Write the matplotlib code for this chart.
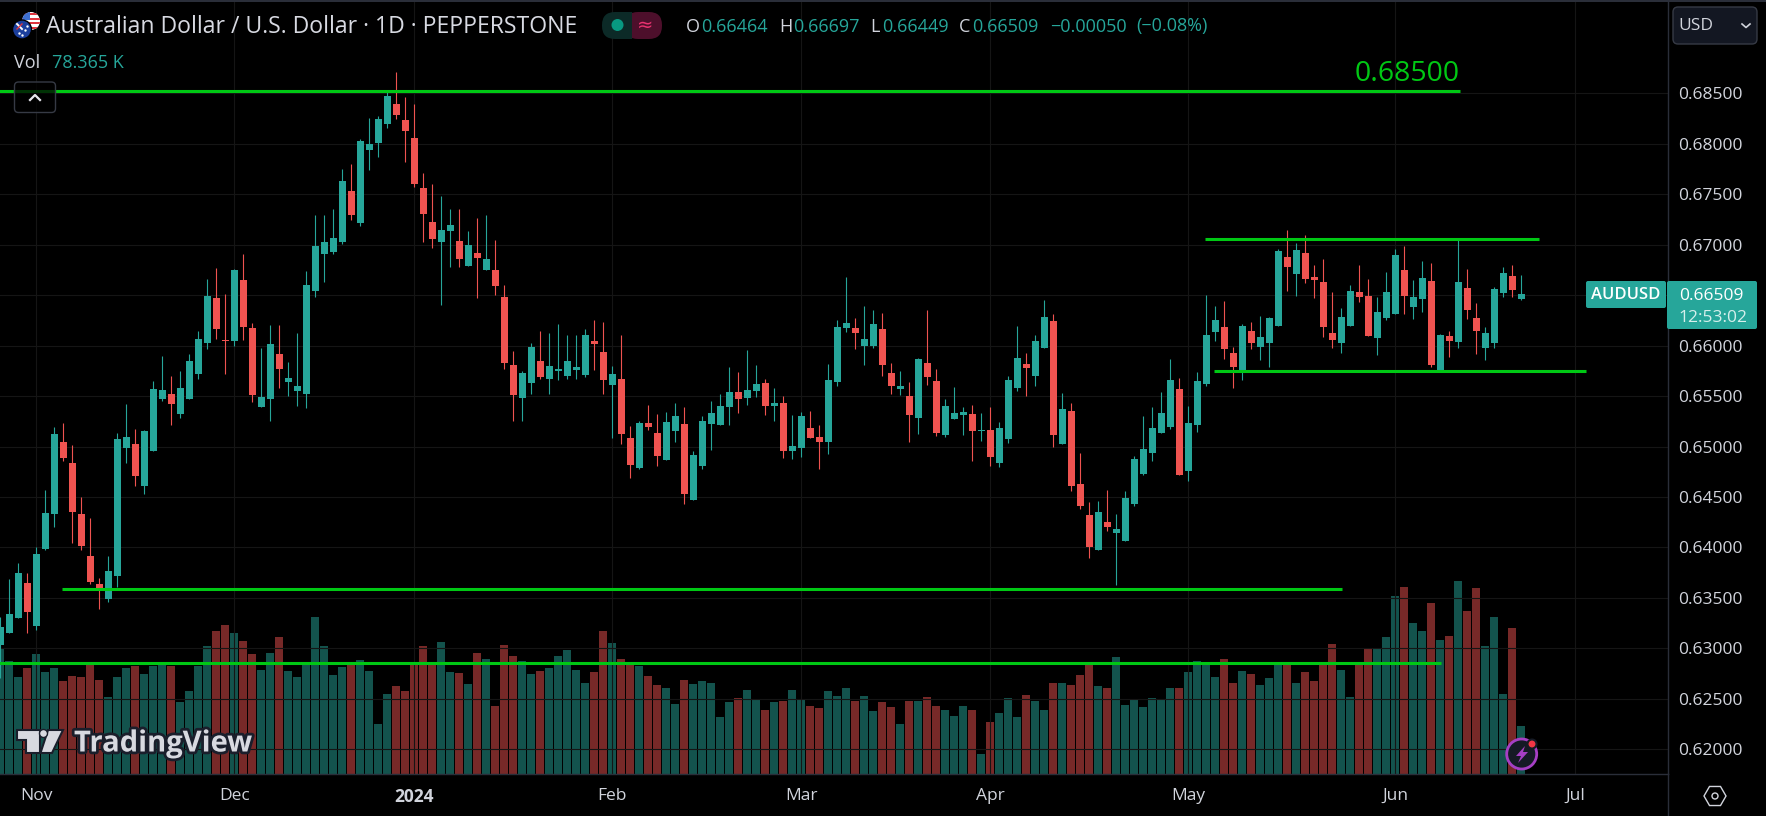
"""AUDUSD daily candles with volume, drawn like a TradingView dark chart."""
import numpy as np
import matplotlib
matplotlib.use("Agg")
import matplotlib.pyplot as plt
from matplotlib.patches import Circle, FancyBboxPatch, Polygon, Rectangle
import matplotlib.patheffects as pe

plt.rcParams["font.family"] = ["Open Sans", "DejaVu Sans"]

FIRST_BAR = -4  # bar 0 is the "Nov" tick

# prices in points (1e-5)
opens = [
    63034, 63153, 63301, 63648, 63222, 63985, 64332, 65045, 64837, 64332,
    63916, 63638, 63490, 63717, 64986, 65025, 64609, 64956, 65471, 65521,
    65323, 65471, 65719, 66026, 66472, 66056, 66046, 66650, 66175, 65392,
    65471, 65917, 65640, 65551, 65521, 66541, 66908, 66928, 67027, 67532,
    67215, 67939, 68008, 68196, 68394, 68236, 68058, 67562, 67225, 67027,
    67136, 67037, 66789, 66918, 66750, 66750, 66482, 65808, 65481, 65630,
    65848, 65669, 65749, 65699, 65759, 65709, 66046, 65937, 65610, 65669,
    65085, 64788, 65233, 65134, 64867, 65154, 65224, 64470, 64807, 65224,
    65214, 65392, 65541, 65481, 65551, 65630, 65402, 65432, 64956, 64986,
    65184, 65095, 65045, 65640, 66175, 66175, 65996, 65996, 66165, 65729,
    65570, 65501, 65283, 65828, 65650, 65115, 65273, 65313, 65323, 65154,
    65164, 64837, 65075, 65580, 65818, 65699, 65977, 66244, 65025, 65352,
    64629, 64322, 63975, 64252, 64143, 64064, 64431, 64728, 64936, 65134,
    65194, 65570, 64758, 65214, 65620, 66135, 66185, 65927, 65739, 66145,
    65987, 66026, 66195, 66878, 66710, 66918, 66680, 66631, 66125, 66026,
    66195, 66532, 66492, 66076, 66274, 66314, 66750, 66383, 66462, 66641,
    65739, 66096, 66036, 66571, 66274, 65977, 66026, 66522, 66690, 66464,
]
highs = [
    63311, 63688, 63846, 63747, 64005, 64570, 65194, 65233, 65015, 64500,
    64292, 63698, 63916, 65134, 65422, 65174, 65164, 65650, 65897, 65699,
    65749, 65917, 66145, 66660, 66769, 66512, 66759, 66908, 66224, 65977,
    66205, 66205, 65838, 66125, 66740, 67295, 67295, 67354, 67750, 67800,
    68048, 68256, 68276, 68513, 68712, 68464, 68394, 67711, 67602, 67483,
    67354, 67354, 67136, 67265, 67295, 67047, 66601, 65947, 65749, 66026,
    66145, 66125, 66215, 66105, 66105, 66165, 66254, 66234, 65798, 66105,
    65204, 65253, 65412, 65323, 65342, 65432, 65392, 64956, 65303, 65452,
    65521, 65788, 65739, 65957, 65808, 65669, 65580, 65501, 65313, 65342,
    65352, 65214, 65818, 66254, 66680, 66274, 66393, 66353, 66323, 65828,
    65749, 65640, 65878, 66353, 65769, 65471, 65590, 65392, 65412, 65333,
    65392, 65243, 65699, 66195, 65927, 66105, 66452, 66314, 65531, 65432,
    64936, 64451, 64461, 64570, 64332, 64560, 64906, 65303, 65392, 65541,
    65868, 65679, 65402, 65739, 66502, 66393, 66442, 65987, 66215, 66234,
    66294, 66284, 66958, 67146, 67017, 67096, 66799, 66859, 66532, 66373,
    66601, 66799, 66660, 66482, 66730, 66958, 66987, 66650, 66839, 66819,
    66115, 66145, 67047, 66759, 66423, 66185, 66581, 66779, 66799, 66697,
]
lows = [
    62707, 63153, 63301, 63153, 63182, 63975, 64203, 64857, 64044, 63975,
    63638, 63390, 63460, 63608, 64837, 64609, 64530, 64956, 65452, 65214,
    65283, 65471, 65669, 65967, 66066, 65719, 65996, 66056, 65442, 65392,
    65253, 65580, 65501, 65402, 65382, 66482, 66631, 66908, 67007, 67245,
    67186, 67741, 67869, 68157, 68246, 67820, 67572, 67027, 66968, 66403,
    66779, 66779, 66789, 66472, 66750, 66502, 65769, 65253, 65253, 65521,
    65669, 65521, 65660, 65669, 65669, 65689, 65759, 65521, 65085, 65025,
    64688, 64778, 65164, 64807, 64867, 65045, 64431, 64470, 64778, 64966,
    65214, 65214, 65333, 65412, 65491, 65313, 65253, 64887, 64877, 64897,
    65085, 64778, 64926, 65600, 66135, 65967, 65808, 65977, 65699, 65521,
    65511, 65045, 65124, 65610, 65105, 65095, 65273, 65115, 64857, 65055,
    64807, 64797, 65035, 65551, 65501, 65600, 65977, 64996, 65025, 64560,
    64381, 63896, 63975, 64163, 63628, 64064, 64411, 64718, 64857, 65134,
    65174, 64718, 64659, 65144, 65600, 66046, 65868, 65580, 65660, 65967,
    65858, 65788, 66195, 66541, 66492, 66621, 66472, 66086, 65977, 65927,
    66195, 66433, 66096, 65907, 66254, 66314, 66314, 66264, 66333, 65788,
    65739, 65887, 65977, 66264, 65917, 65858, 65977, 66482, 66482, 66449,
]
closes = [
    63212, 63341, 63747, 63361, 63935, 64342, 65124, 64887, 64352, 64015,
    63658, 63598, 63767, 65075, 65095, 64708, 65154, 65570, 65560, 65422,
    65580, 65848, 66066, 66492, 66165, 66046, 66750, 66185, 65511, 65491,
    66016, 65769, 65679, 65600, 66601, 66987, 67027, 67067, 67632, 67295,
    68028, 67998, 68246, 68474, 68285, 68127, 67602, 67304, 67057, 67146,
    67195, 66859, 66997, 66868, 66859, 66591, 65828, 65511, 65729, 65987,
    65689, 65798, 65769, 65848, 65788, 66105, 66016, 65660, 65719, 65124,
    64817, 65233, 65194, 64906, 65243, 65303, 64530, 64916, 65253, 65333,
    65402, 65541, 65471, 65560, 65620, 65402, 65432, 64956, 65006, 65303,
    65085, 65045, 65660, 66185, 66224, 66125, 66066, 66215, 65808, 65600,
    65600, 65313, 65868, 65689, 65134, 65402, 65333, 65342, 65154, 65164,
    64897, 65184, 65660, 65878, 65779, 66046, 66284, 65115, 65372, 64609,
    64411, 64005, 64352, 64203, 64183, 64490, 64877, 64976, 65184, 65333,
    65660, 64718, 65233, 65650, 66105, 66254, 65967, 65788, 66195, 66026,
    66086, 66274, 66938, 66779, 66948, 66660, 66650, 66185, 66056, 66284,
    66541, 66482, 66096, 66333, 66532, 66898, 66492, 66482, 66670, 65808,
    66105, 66046, 66631, 66353, 66145, 66125, 66561, 66720, 66551, 66509,
]
# volume in thousands
volumes = [
    205, 185, 158, 173, 196, 167, 173, 152, 160, 158,
    180, 153, 126, 158, 173, 176, 163, 176, 178, 176,
    118, 136, 176, 209, 234, 243, 230, 217, 196, 170,
    198, 224, 168, 158, 178, 256, 209, 162, 175, 178,
    186, 168, 82, 131, 144, 136, 180, 209, 178, 216,
    167, 165, 147, 198, 188, 111, 211, 193, 185, 163,
    168, 173, 193, 202, 170, 149, 167, 234, 214, 188,
    180, 176, 160, 145, 140, 114, 153, 147, 152, 149,
    93, 118, 124, 137, 121, 105, 118, 119, 137, 122,
    111, 108, 136, 127, 140, 119, 127, 103, 118, 109,
    82, 119, 119, 126, 111, 105, 95, 111, 105, 33,
    85, 100, 124, 93, 129, 119, 105, 149, 149, 145,
    162, 180, 144, 140, 191, 113, 122, 109, 124, 121,
    140, 140, 167, 185, 178, 158, 188, 149, 168, 163,
    145, 157, 178, 178, 149, 167, 152, 178, 212, 170,
    126, 178, 204, 206, 224, 291, 305, 247, 234, 279,
    219, 225, 315, 266, 304, 209, 256, 131, 238, 78.365,
]

# hand drawn horizontal levels
line_prices = [0.68520, 0.67057, 0.65746, 0.63585, 0.62853]
line_starts = [-5, 129.8, 130.8, 2.85, -5]
line_ends = [158.2, 167, 172.2, 145.1, 156.1]

month_bars = [0, 22, 42, 64, 85, 106, 128, 151, 171]
month_labels = ["Nov", "Dec", "2024", "Feb", "Mar", "Apr", "May", "Jun", "Jul"]
price_ticks = [0.685, 0.68, 0.675, 0.67, 0.665, 0.66, 0.655, 0.65,
               0.645, 0.64, 0.635, 0.63, 0.625, 0.62]

TEAL, RED = "#26a69a", "#ef5350"
LEVEL_GREEN = "#00c814"
GRID = "#151515"
BORDER = "#2a2e39"
LABEL = "#d1d4dc"

W, H = 1766, 816
PANE_R, PANE_B = 1667.5, 774

fig = plt.figure(figsize=(W / 100, H / 100), dpi=100, facecolor="black")
rect = [0, (H - PANE_B) / H, PANE_R / W, PANE_B / H]

o, h, l, c = [np.array(a) / 1e5 for a in (opens, highs, lows, closes)]
x = np.arange(len(o)) + FIRST_BAR
up = c >= o
colors = np.where(up, TEAL, RED)

ax_vol = fig.add_axes(rect, zorder=1, facecolor="black")
ax_vol.bar(x, volumes, width=0.89, color=colors, alpha=0.5, linewidth=0)
ax_vol.set_ylim(0, 1264)
ax_vol.axis("off")

ax = fig.add_axes(rect, zorder=2)
ax.patch.set_alpha(0)
ax.grid(True, color=GRID, linewidth=0.8)
ax.set_axisbelow(True)
ax.vlines(x, l, h, colors=colors, linewidth=0.8, zorder=3)
ax.bar(x, np.maximum(np.abs(c - o), 0.00006), bottom=np.minimum(o, c), width=0.78,
       color=colors, linewidth=0, zorder=4)
ax.hlines(line_prices, line_starts, line_ends, colors=LEVEL_GREEN, linewidth=2.2, zorder=5)

xlim = (-36.4 / 9, (PANE_R - 36.4) / 9)
ax.set_xlim(xlim)
ax_vol.set_xlim(xlim)
ax.set_ylim(0.61755, 0.69425)

ax.yaxis.tick_right()
ax.set_yticks(price_ticks)
# 0.66500 sits behind the last price tag in the original
ax.set_yticklabels(["" if p == 0.665 else f"{p:.5f}" for p in price_ticks])
ax.set_xticks(month_bars)
ax.set_xticklabels(month_labels)
ax.tick_params(axis="y", length=0, pad=8, labelsize=12.5, labelcolor=LABEL)
ax.tick_params(axis="x", length=0, pad=10, labelsize=12.5, labelcolor=LABEL)
ax.get_xticklabels()[2].set_fontweight("bold")
for side in ("top", "left"):
    ax.spines[side].set_visible(False)
for side in ("right", "bottom"):
    ax.spines[side].set_color(BORDER)
    ax.spines[side].set_linewidth(1)

# everything else sits on a pixel-space overlay
ui = fig.add_axes([0, 0, 1, 1], zorder=3)
ui.set_xlim(0, W)
ui.set_ylim(H, 0)
ui.axis("off")
ui.plot([PANE_R, PANE_R], [PANE_B, H], color=BORDER, lw=1)
ui.add_patch(Rectangle((0, 0), W, 1.5, color=BORDER, lw=0))


def round_box(x0, y0, x1, y1, face, edge="none", rad=3, lw=1, **kw):
    ui.add_patch(FancyBboxPatch((x0 + rad, y0 + rad), x1 - x0 - 2 * rad, y1 - y0 - 2 * rad,
                                boxstyle=f"round,pad={rad},rounding_size={rad}",
                                facecolor=face, edgecolor=edge, linewidth=lw, **kw))


def label(px, py, s, color=LABEL, size=12.5, ha="left", **kw):
    return ui.text(px, py, s, color=color, fontsize=size, ha=ha, va="center", **kw)


# flags
us = Circle((31, 21), 9, color="white", lw=0)
ui.add_patch(us)
for yy in (13, 17.5, 22, 26.5):
    st = Rectangle((21, yy), 20, 2.2, color="#e0353f", lw=0)
    ui.add_patch(st)
    st.set_clip_path(us)
cant = Rectangle((21, 11), 9, 9, color="#3d6fd0", lw=0)
ui.add_patch(cant)
cant.set_clip_path(us)
ui.add_patch(Circle((22, 29.5), 9.5, facecolor="#1c3f9c", edgecolor="black", lw=1))
ui.plot([17, 22], [24, 29], color="white", lw=1.4)
ui.plot([17, 22], [29, 24], color="#e0353f", lw=1)
ui.scatter([25, 27, 22, 19], [30, 26, 35, 33], s=3, color="white", lw=0)

label(46, 27, "Australian Dollar / U.S. Dollar · 1D · PEPPERSTONE", size=16.6, color="#d8dae2")
label(13.5, 62.5, "Vol", size=13)
label(52, 62.5, "78.365 K", color=TEAL, size=13)

# status pill
round_box(602, 12, 640, 39, "#0c2a27", rad=13)
round_box(625, 12, 662, 39, "#4d0f2b", rad=13)
ui.add_patch(Rectangle((625, 12), 7, 27, color="#0c2a27", lw=0))
ui.add_patch(Circle((617.5, 25), 6, color="#089981", lw=0))
label(645, 25, "≈", color="#e8326f", size=14, ha="center", family="DejaVu Sans")

for px, s, col in [(686, "O", LABEL), (701, "0.66464", TEAL), (779, "H", LABEL), (793, "0.66697", TEAL),
                   (870, "L", LABEL), (882, "0.66449", TEAL), (959, "C", LABEL), (972, "0.66509", TEAL),
                   (1050, "−0.00050", TEAL), (1136, "(−0.08%)", TEAL)]:
    label(px, 26.5, s, color=col, size=13)

# collapse button
round_box(14.5, 82, 55.5, 112.5, (0, 0, 0, 0.75), edge="#363a45", rad=4)
ui.plot([30, 35, 40], [100, 95, 100], color="#e8e8ee", lw=1.6)

label(1460, 74, "0.68500", color=LEVEL_GREEN, size=20.5, ha="right")

# currency selector
round_box(1673, 7, 1757, 44, "#131722", edge="#363a45", rad=5)
label(1678, 26.5, "USD", size=12.5)
ui.plot([1742, 1746, 1750], [24, 27.5, 24], color=LABEL, lw=1.2)

# last price tags
round_box(1586, 281, 1666, 308, TEAL, rad=2)
label(1626, 295, "AUDUSD", color="white", size=12, ha="center", fontweight="semibold")
round_box(1667, 281, 1757, 329, TEAL, rad=2)
label(1711, 296.5, "0.66509", color="white", ha="center")
label(1713, 317.5, "12:53:02", color="#d5efec", ha="center")

# watermark
wm = [pe.withStroke(linewidth=4, foreground="#1a1e2b")]
mark = "#d8d9e0"
for pts in ([(17, 730), (40, 730), (40, 753), (26, 753), (26, 740), (17, 740)],
            [(48, 730), (63, 730), (52, 753), (40.5, 753)]):
    ui.add_patch(Polygon(pts, facecolor=mark, edgecolor="#1a1e2b", lw=1.5))
ui.add_patch(Circle((43.5, 733.5), 4, facecolor=mark, edgecolor="#1a1e2b", lw=1))
label(74, 744, "TradingView", color=mark, size=21, fontweight="bold", path_effects=wm)

# bolt badge
ui.add_patch(Circle((1521.7, 754), 15, facecolor="#161a25", edgecolor="#a63fc4", lw=2))
ui.add_patch(Polygon([(1525, 746), (1516, 756), (1521, 756), (1518, 763), (1528, 752), (1523, 752)],
                     color="#a63fc4", lw=0))
ui.add_patch(Circle((1532, 744), 4.5, facecolor="#f23645", edgecolor="#161a25", lw=1.5))

# settings icon
ang = np.deg2rad([0, 60, 120, 180, 240, 300])
ui.add_patch(Polygon(np.c_[1715 + 11 * np.cos(ang), 796 + 11 * np.sin(ang)], fill=False, edgecolor=LABEL, lw=1))
ui.add_patch(Circle((1715, 796), 3, fill=False, edgecolor=LABEL, lw=1))

fig.savefig("out.png", dpi=100, facecolor="black")
